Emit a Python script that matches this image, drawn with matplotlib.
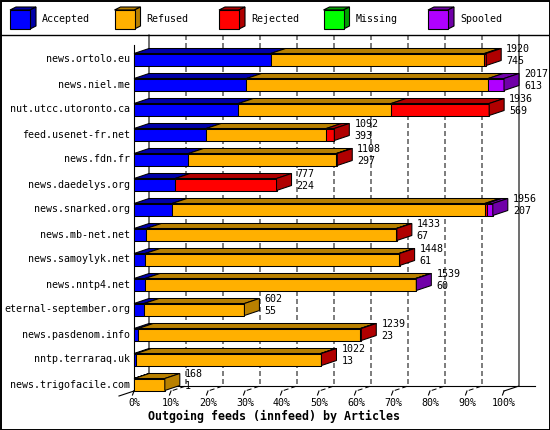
import matplotlib
matplotlib.use("Agg")
import matplotlib.pyplot as plt
from matplotlib.patches import Polygon, Rectangle

# innfeed outgoing feeds, articles per peer
hosts = ["news.ortolo.eu", "news.niel.me", "nut.utcc.utoronto.ca", "feed.usenet-fr.net",
         "news.fdn.fr", "news.daedelys.org", "news.snarked.org", "news.mb-net.net",
         "news.samoylyk.net", "news.nntp4.net", "eternal-september.org",
         "news.pasdenom.info", "nntp.terraraq.uk", "news.trigofacile.com"]
accepted = [745, 613, 569, 393, 297, 224, 207, 67, 61, 60, 55, 23, 13, 1]
refused = [1165, 1318, 833, 655, 806, 0, 1705, 1363, 1384, 1475, 547, 1211, 1005, 167]
rejected = [10, 0, 534, 44, 5, 553, 11, 3, 3, 0, 0, 5, 4, 0]
missing = [0] * 14
spooled = [0, 86, 0, 0, 0, 0, 33, 0, 0, 4, 0, 0, 0, 0]

series_names = ["Accepted", "Refused", "Rejected", "Missing", "Spooled"]
front_colors = ["#0000ff", "#ffb000", "#ff0000", "#00ff00", "#b000ff"]
shade_colors = ["#0000a8", "#b88000", "#b00000", "#00a000", "#7000a8"]
tick_labels = ["0%", "10%", "20%", "30%", "40%", "50%", "60%", "70%", "80%", "90%", "100%"]

W, H = 550, 430
MONO = "DejaVu Sans Mono"
FS = 7.2

fig = plt.figure(figsize=(W / 100, H / 100), dpi=100)

# background axes in pixels: frame + legend
bg = fig.add_axes([0, 0, 1, 1])
bg.set_xlim(0, W)
bg.set_ylim(H, 0)
bg.axis("off")
bg.add_patch(Rectangle((0.5, 0.5), W - 1, H - 1, fill=False, lw=1.4, ec="black"))
bg.plot([0, W], [35, 35], color="black", lw=1)

for k, name in enumerate(series_names):
    bx = 10 + k * 104.5
    bg.add_patch(Polygon([(bx, 10), (bx + 20, 10), (bx + 26, 7), (bx + 6, 7)],
                         fc=shade_colors[k], ec="black", lw=0.8))
    bg.add_patch(Polygon([(bx + 20, 10), (bx + 26, 7), (bx + 26, 26), (bx + 20, 29)],
                         fc=shade_colors[k], ec="black", lw=0.8))
    bg.add_patch(Rectangle((bx, 10), 20, 19, fc=front_colors[k], ec="black", lw=0.8))
    bg.text(bx + 32, 19.5, name, family=MONO, fontsize=FS, va="center", ha="left")

# plot axes: x in percent of largest feed, y in row index
totals = [a + r + j + m + s for a, r, j, m, s in zip(accepted, refused, rejected, missing, spooled)]
max_total = max(totals)
x0px, x1px = 134, 504
top_px, floor_px = 35, 391
row0_px, row_step = 59.5, 25.0
ax = fig.add_axes([x0px / W, (H - floor_px) / H, (x1px - x0px) / W, (floor_px - top_px) / H])
ax.set_xlim(0, 100)
ax.set_ylim((floor_px - row0_px) / row_step, (top_px - row0_px) / row_step)
ax.axis("off")

px_x = (x1px - x0px) / 100.0
dx = 15 / px_x           # depth offset, data units
dy = 5 / row_step
half = 6 / row_step
y_top = (top_px - row0_px) / row_step
y_front = (floor_px - row0_px) / row_step
y_back = y_front - dy

# grid walls
for k in range(11):
    xf = k * 10
    xb = xf + dx
    if k == 0 or k == 10:
        ax.plot([xb, xb, xf], [y_top, y_back, y_front], color="black", lw=0.8,
                clip_on=False, zorder=1)
    else:
        ax.plot([xb, xb, xf], [y_top, y_back, y_front], color="black", lw=0.72,
                ls=(0, (5, 3)), clip_on=False, zorder=1)
    ax.plot([xf, xf - 1.5 / px_x], [y_front, y_front + 4 / row_step], color="black",
            lw=0.8, clip_on=False, zorder=1)
    ax.text(xf, y_front + 12.5 / row_step, tick_labels[k], family=MONO, fontsize=FS,
            ha="center", va="center", clip_on=False)
ax.plot([0, -dx], [y_front, y_front + dy], color="black", lw=0.8, clip_on=False)
ax.plot([dx, (535 - x0px) / px_x], [y_back, y_back], color="black", lw=0.8,
        clip_on=False, zorder=1)
ax.plot([0, 0], [(45 - row0_px) / row_step, y_front], color="black", lw=0.8,
        clip_on=False, zorder=1)

# 3d bars
for i, host in enumerate(hosts):
    vals = [accepted[i], refused[i], rejected[i], missing[i], spooled[i]]
    yt, yb = i - half, i + half
    left = 0.0
    last = None
    for k, v in enumerate(vals):
        if v <= 0:
            continue
        w = v / max_total * 100
        right = left + w
        ax.add_patch(Polygon([(left, yt), (right, yt), (right + dx, yt - dy), (left + dx, yt - dy)],
                             fc=shade_colors[k], ec="black", lw=0.75, clip_on=False, zorder=3))
        ax.add_patch(Rectangle((left, yt), w, 2 * half, fc=front_colors[k], ec="black",
                               lw=0.75, clip_on=False, zorder=3))
        last = (k, right)
        left = right
    k, right = last
    ax.add_patch(Polygon([(right, yt), (right + dx, yt - dy), (right + dx, yb - dy), (right, yb)],
                         fc=shade_colors[k], ec="black", lw=0.75, clip_on=False, zorder=3))
    xt = right + dx + 5 / px_x
    ax.text(xt, i - 10.5 / row_step, str(totals[i]), family=MONO, fontsize=FS,
            va="center", ha="left", clip_on=False, zorder=4)
    ax.text(xt, i + 1.5 / row_step, str(accepted[i]), family=MONO, fontsize=FS,
            va="center", ha="left", clip_on=False, zorder=4)
    ax.text(-4 / px_x, i, host, family=MONO, fontsize=FS, va="center", ha="right",
            clip_on=False)

fig.text(274 / W, 1 - 416 / H, "Outgoing feeds (innfeed) by Articles", family=MONO,
         weight="bold", fontsize=8.4, ha="center", va="center")

fig.savefig("out.png", dpi=100)
